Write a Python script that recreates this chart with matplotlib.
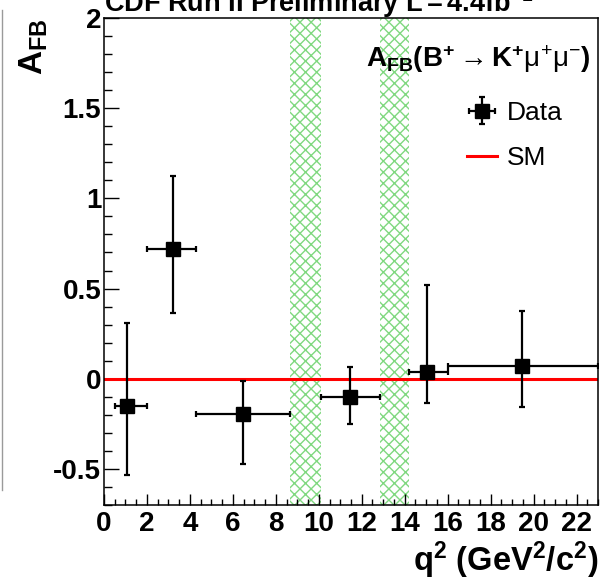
import matplotlib
matplotlib.use('Agg')
import matplotlib.pyplot as plt
from matplotlib.lines import Line2D
from matplotlib.ticker import MultipleLocator
import numpy as np

plt.rcParams['font.family'] = ['Liberation Sans', 'DejaVu Sans']
plt.rcParams['mathtext.fontset'] = 'custom'
plt.rcParams['mathtext.rm'] = 'Liberation Sans'
plt.rcParams['mathtext.it'] = 'Liberation Sans:italic'
plt.rcParams['mathtext.bf'] = 'Liberation Sans:bold'
plt.rcParams['hatch.linewidth'] = 1.0

# A_FB measurement per q^2 bin (GeV^2/c^2)
q2 = np.array([1.05, 3.2, 6.48, 11.45, 15.05, 19.45])
q2_lo = np.array([0.5, 2.0, 4.3, 10.09, 14.18, 16.0])
q2_hi = np.array([2.0, 4.3, 8.68, 12.86, 16.0, 23.0])
afb = np.array([-0.15, 0.72, -0.196, -0.104, 0.035, 0.072])
afb_up = np.array([0.307, 1.124, -0.011, 0.067, 0.522, 0.374])
afb_dn = np.array([-0.533, 0.367, -0.472, -0.252, -0.135, -0.154])

# charmonium veto windows
veto_lo = [8.68, 12.86]
veto_hi = [10.09, 14.18]

# Standard Model prediction
sm_afb = 0.0

fig = plt.figure(figsize=(6, 5.82), dpi=100)
ax = fig.add_axes([104/600, 1 - 505/582, 494/600, 487/582])

for lo, hi in zip(veto_lo, veto_hi):
    ax.axvspan(lo, hi, facecolor='none', edgecolor='#80d880', hatch='xxx', lw=0, zorder=1)

sm_line = ax.axhline(sm_afb, color='#ff0000', lw=2.2, zorder=2)

data = ax.errorbar(q2, afb, xerr=[q2 - q2_lo, q2_hi - q2], yerr=[afb - afb_dn, afb_up - afb],
                   fmt='s', color='black', ms=9.5, lw=1.6, capsize=2.0, capthick=1.6, zorder=3)

ax.set_xlim(0, 23)
ax.set_ylim(-0.7, 2.0)
ax.xaxis.set_major_locator(MultipleLocator(2))
ax.xaxis.set_minor_locator(MultipleLocator(0.5))
ax.yaxis.set_major_locator(MultipleLocator(0.5))
ax.yaxis.set_minor_locator(MultipleLocator(0.1))
ax.tick_params(which='both', direction='in', top=False, right=False, width=1.0, labelsize=20)
ax.tick_params(axis='x', which='major', length=8, pad=4)
ax.tick_params(axis='x', which='minor', length=4)
ax.tick_params(axis='y', which='major', length=10.5, pad=2)
ax.tick_params(axis='y', which='minor', length=5.5)
ax.set_yticks([-0.5, 0, 0.5, 1, 1.5, 2])
ax.set_yticklabels(['-0.5', '0', '0.5', '1', '1.5', '2'])
for lbl in ax.get_xticklabels() + ax.get_yticklabels():
    lbl.set_fontweight('bold')
for sp in ax.spines.values():
    sp.set_linewidth(1.1)

ax.set_ylabel(r'$\mathbf{A_{FB}}$', fontsize=24, loc='top')
ax.yaxis.set_label_coords(-0.11, 1.0)
ax.set_xlabel(r'$\mathbf{q^{2}\ (GeV^{2}/c^{2})}$', fontsize=23.5, loc='right')
ax.xaxis.set_label_coords(1.0, -0.071)

fig.text(104/600, 1 - 12/582, r'$\mathbf{CDF\ Run\ II\ Preliminary\ L{=}4.4fb^{-1}}$',
         fontsize=19.5, ha='left', va='baseline')

ax.text(0.984, 0.899, r'$\mathbf{A_{FB}(B^{+}}\rightarrow\mathbf{K^{+}}\mathrm{\mu^{+}\mu^{-}}\mathbf{)}$',
        transform=ax.transAxes, ha='right', va='baseline', fontsize=20)

ax.legend([data, sm_line], ['Data', 'SM'], loc='upper left', bbox_to_anchor=(0.735, 0.83),
          frameon=False, fontsize=19, handlelength=1.15, handletextpad=0.35,
          labelspacing=0.8, borderpad=0, borderaxespad=0)

# grey edge left over from the neighbouring panel
fig.add_artist(Line2D([0.003, 0.003], [1 - 10/582, 1 - 490/582], color='#9a9a9a', lw=1.0))

fig.savefig('out.png', dpi=100)
